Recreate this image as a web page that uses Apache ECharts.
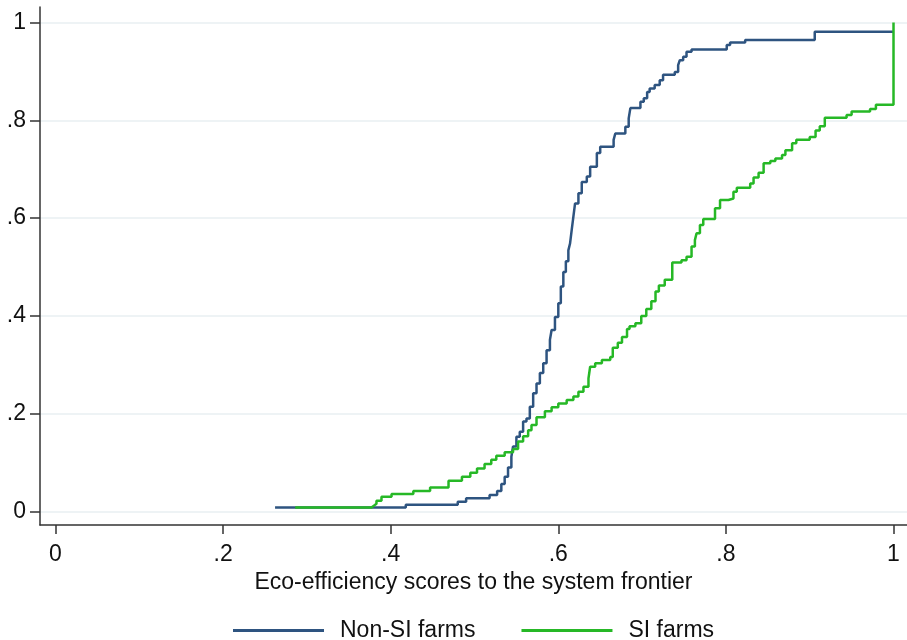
<!DOCTYPE html>
<html>
<head>
<meta charset="utf-8">
<script src="https://cdn.jsdelivr.net/npm/echarts@6/dist/echarts.min.js"></script>
<style>
  html, body { margin: 0; padding: 0; background: #fff; }
  #chart { width: 907px; height: 640px; }
</style>
</head>
<body>
<div id="chart"></div>
<script>
// tick positions and their labels (shared by both axes)
const tickValues = [0, 0.2, 0.4, 0.6, 0.8, 1];
const tickLabels = ["0", ".2", ".4", ".6", ".8", "1"];

// Non-SI farms: cumulative distribution, step corners
const nonSiX = [0.262, 0.418, 0.480, 0.490, 0.518, 0.527, 0.532, 0.536, 0.540, 0.544,
  0.546, 0.550, 0.554, 0.558, 0.562, 0.566, 0.570, 0.574, 0.578, 0.582,
  0.586, 0.590, 0.592, 0.596, 0.600, 0.603, 0.606, 0.609, 0.612, 0.614,
  0.616, 0.618, 0.620, 0.624, 0.628, 0.634, 0.638, 0.646, 0.650, 0.666,
  0.668, 0.680, 0.684, 0.686, 0.698, 0.702, 0.706, 0.709, 0.715, 0.721,
  0.725, 0.739, 0.743, 0.745, 0.749, 0.753, 0.759, 0.801, 0.805, 0.823,
  0.906, 1.0];
const nonSiY = [0.008, 0.014, 0.020, 0.027, 0.034, 0.042, 0.056, 0.071, 0.090, 0.112,
  0.133, 0.153, 0.163, 0.184, 0.190, 0.214, 0.242, 0.262, 0.283, 0.303,
  0.330, 0.351, 0.371, 0.398, 0.426, 0.460, 0.490, 0.512, 0.534, 0.548,
  0.576, 0.603, 0.630, 0.651, 0.674, 0.685, 0.705, 0.733, 0.746, 0.760,
  0.773, 0.787, 0.804, 0.825, 0.838, 0.845, 0.858, 0.865, 0.872, 0.882,
  0.893, 0.899, 0.913, 0.923, 0.930, 0.940, 0.945, 0.954, 0.959, 0.964,
  0.981, 0.981];

// SI farms
const siX = [0.286, 0.377, 0.380, 0.383, 0.389, 0.401, 0.427, 0.447, 0.469, 0.485,
  0.495, 0.503, 0.512, 0.520, 0.526, 0.536, 0.546, 0.552, 0.558, 0.564,
  0.568, 0.574, 0.584, 0.592, 0.600, 0.610, 0.618, 0.624, 0.630, 0.636,
  0.638, 0.644, 0.652, 0.662, 0.665, 0.671, 0.676, 0.682, 0.685, 0.692,
  0.699, 0.705, 0.711, 0.716, 0.720, 0.727, 0.736, 0.747, 0.753, 0.759,
  0.763, 0.765, 0.769, 0.773, 0.787, 0.793, 0.803, 0.809, 0.813, 0.829,
  0.833, 0.839, 0.845, 0.853, 0.859, 0.867, 0.871, 0.879, 0.884, 0.900,
  0.907, 0.912, 0.918, 0.944, 0.950, 0.972, 0.979, 1.0, 1.0];
const siY = [0.008, 0.012, 0.016, 0.022, 0.030, 0.036, 0.042, 0.049, 0.063, 0.071,
  0.079, 0.088, 0.097, 0.106, 0.114, 0.121, 0.128, 0.143, 0.154, 0.166,
  0.177, 0.193, 0.205, 0.213, 0.221, 0.228, 0.235, 0.245, 0.255, 0.272,
  0.296, 0.303, 0.310, 0.316, 0.335, 0.345, 0.357, 0.373, 0.379, 0.385,
  0.400, 0.414, 0.430, 0.450, 0.462, 0.474, 0.509, 0.514, 0.521, 0.542,
  0.555, 0.569, 0.586, 0.598, 0.620, 0.637, 0.640, 0.654, 0.662, 0.671,
  0.683, 0.693, 0.712, 0.717, 0.722, 0.729, 0.739, 0.753, 0.760, 0.766,
  0.779, 0.788, 0.805, 0.811, 0.818, 0.823, 0.832, 0.832, 1.0];

const seriesNames = ["Non-SI farms", "SI farms"];

function zip(xs, ys) {
  return xs.map((x, i) => [x, ys[i]]);
}

function tickFormatter(v) {
  const i = tickValues.findIndex((t) => Math.abs(t - v) < 1e-9);
  return i >= 0 ? tickLabels[i] : "";
}

const font = "'Liberation Sans', Arial, sans-serif";
const chart = echarts.init(document.getElementById("chart"), null, { renderer: "canvas" });

const option = {
  backgroundColor: "#ffffff",
  animation: false,
  textStyle: { fontFamily: font },
  grid: { left: 40, right: 0, top: 7, bottom: 115 },
  legend: {
    data: seriesNames,
    left: 228,
    top: 614,
    icon: "rect",
    itemWidth: 91,
    itemHeight: 3,
    itemGap: 46,
    textStyle: { fontSize: 23, color: "#111", fontFamily: font, padding: [0, 0, 0, 11] },
  },
  xAxis: {
    type: "value",
    min: -0.0185,
    max: 1.0161,
    name: "Eco-efficiency scores to the system frontier",
    nameLocation: "middle",
    nameGap: 43,
    nameTextStyle: { fontSize: 23, color: "#111", fontFamily: font },
    axisLine: { show: true, onZero: false, lineStyle: { color: "#333", width: 1.5 } },
    axisTick: { show: true, length: 9, customValues: tickValues, lineStyle: { color: "#333", width: 1.5 } },
    axisLabel: {
      customValues: tickValues,
      formatter: tickFormatter,
      margin: 18,
      fontSize: 23,
      color: "#111",
      fontFamily: font,
    },
    splitLine: { show: false },
  },
  yAxis: {
    type: "value",
    min: -0.0276,
    max: 1.0317,
    axisLine: { show: true, onZero: false, lineStyle: { color: "#333", width: 1.5 } },
    axisTick: { show: true, length: 10, customValues: tickValues, lineStyle: { color: "#333", width: 1.5 } },
    axisLabel: {
      customValues: tickValues,
      formatter: tickFormatter,
      margin: 14,
      fontSize: 23,
      color: "#111",
      fontFamily: font,
    },
    splitLine: { show: true, lineStyle: { color: "#e8eff2", width: 1.5 } },
  },
  series: [
    {
      name: seriesNames[0],
      type: "line",
      step: "end",
      showSymbol: false,
      symbol: "none",
      data: zip(nonSiX, nonSiY),
      lineStyle: { color: "#2e5480", width: 2.5 },
      itemStyle: { color: "#2e5480" },
      z: 3,
    },
    {
      name: seriesNames[1],
      type: "line",
      step: "end",
      showSymbol: false,
      symbol: "none",
      data: zip(siX, siY),
      lineStyle: { color: "#26b826", width: 2.5 },
      itemStyle: { color: "#26b826" },
      z: 4,
    },
  ],
};

chart.setOption(option);
</script>
</body>
</html>
